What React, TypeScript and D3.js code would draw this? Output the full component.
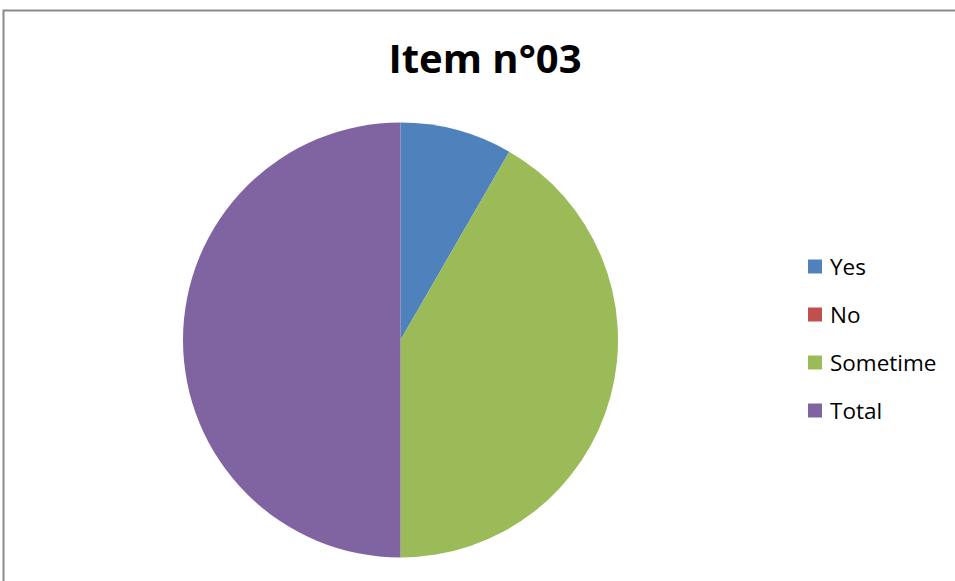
import React from "react";
import * as d3 from "d3";

const categories = ["Yes", "No", "Sometime", "Total"];
const values = [2, 0, 10, 12];
const colors = ["#4F81BD", "#C0504D", "#9BBB59", "#8064A2"];
const title = "Item n°03";

export default function App() {
  const W = 955, H = 581;
  const cx = 400.5, cy = 340, r = 217.5;
  const pie = d3.pie<number>().sort(null).value((d) => d)(values);
  const arc = d3.arc<d3.PieArcDatum<number>>().innerRadius(0).outerRadius(r);
  const legendY = d3.scalePoint<string>().domain(categories).range([267, 411]);
  return (
    <svg width={W} height={H} style={{ position: "absolute", left: 0, top: 0 }}>
      <rect x={0} y={0} width={W} height={H} fill="#fff" />
      <path d={`M3.5,${H} L3.5,10.5 L${W},10.5`} fill="none" stroke="#8a8a8a" strokeWidth={2} />
      <text x={485} y={73} textAnchor="middle" fontFamily="'Open Sans', sans-serif" fontWeight="bold" fontSize={40} fill="#000">
        {title}
      </text>
      <g transform={`translate(${cx},${cy})`}>
        {pie.map((p, i) => (
          <path key={i} d={arc(p) || ""} fill={colors[i]} />
        ))}
      </g>
      <g>
        {categories.map((c, i) => (
          <g key={c} transform={`translate(808,${legendY(c)})`}>
            <rect x={0} y={-7.5} width={14} height={14} fill={colors[i]} />
            <text x={22} y={8} fontFamily="'Open Sans', sans-serif" fontSize={22.5} fill="#000">
              {c}
            </text>
          </g>
        ))}
      </g>
    </svg>
  );
}
